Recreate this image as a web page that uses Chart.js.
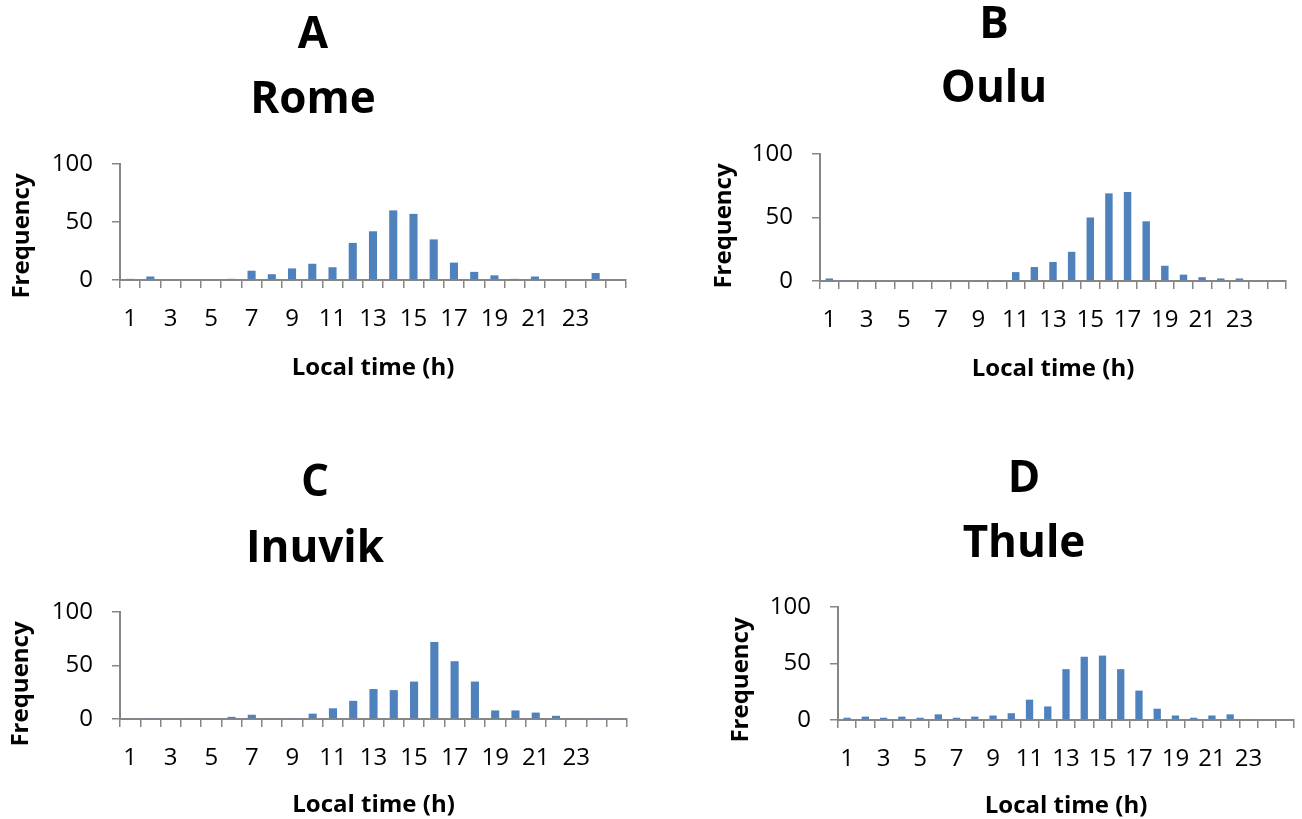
<!DOCTYPE html>
<html>
<head>
<meta charset="utf-8">
<script src="https://cdn.jsdelivr.net/npm/chart.js@4.4.1/dist/chart.umd.min.js"></script>
<style>
  html, body { margin:0; padding:0; background:#fff; }
  #wrap { position:relative; width:1302px; height:819px; overflow:hidden; }
  #wrap canvas { position:absolute; }
</style>
</head>
<body>
<div id="wrap">
  <canvas id="chartA" width="651" height="410" style="left:0;top:0"></canvas>
  <canvas id="chartB" width="651" height="410" style="left:651px;top:0"></canvas>
  <canvas id="chartC" width="651" height="409" style="left:0;top:410px"></canvas>
  <canvas id="chartD" width="651" height="409" style="left:651px;top:410px"></canvas>
</div>
<script>
// Hour of day (the last slot is empty on the original axis)
const hours = ['1','2','3','4','5','6','7','8','9','10','11','12',
               '13','14','15','16','17','18','19','20','21','22','23','24',''];
const yTicks = [0, 50, 100];

// Frequency per local hour
const rome   = [1, 3, 0, 0, 0, 1, 8, 5, 10, 14, 11, 32, 42, 60, 57, 35, 15, 7, 4, 1, 3, 0, 0, 6];
const oulu   = [2, 0.4, 0.4, 0, 0.4, 0, 0, 0.4, 0.4, 0.4, 7, 11, 15, 23, 50, 69, 70, 47, 12, 5, 3, 2, 2, 0];
const inuvik = [0, 0.5, 0, 0.5, 0, 2, 4, 0.5, 0.5, 5, 10, 17, 28, 27, 35, 72, 54, 35, 8, 8, 6, 3, 0.5, 0.5];
const thule  = [2, 3, 2, 3, 2, 5, 2, 3, 4, 6, 18, 12, 45, 56, 57, 45, 26, 10, 4, 2, 4, 5, 0.6, 0];

const BAR_BLUE = '#4f81bd';
const AXIS_GREY = '#868686';
const FONT = "'Open Sans', 'DejaVu Sans', sans-serif";

// Panel letter, city name and axis titles
const panelText = {
  id: 'panelText',
  afterDraw(chart, args, o) {
    const c = chart.ctx;
    const a = chart.chartArea;
    c.save();
    c.fillStyle = '#000';
    c.textAlign = 'center';
    c.textBaseline = 'alphabetic';
    c.font = `bold 44px ${FONT}`;
    c.fillText(o.letter, o.titleX, o.letterY);
    c.fillText(o.city, o.titleX, o.cityY);
    c.font = `bold 24px ${FONT}`;
    c.fillText('Local time (h)', (a.left + a.right) / 2, o.xTitleY);
    c.translate(o.yTitleX, o.yTitleY);
    c.rotate(-Math.PI / 2);
    c.fillText('Frequency', 0, 0);
    c.restore();
  }
};

function makePanel(id, values, box, text) {
  const canvas = document.getElementById(id);
  const W = canvas.width, H = canvas.height;
  return new Chart(canvas, {
    type: 'bar',
    data: {
      labels: hours,
      datasets: [{ data: values, backgroundColor: BAR_BLUE, barPercentage: 1, categoryPercentage: 0.4 }]
    },
    options: {
      responsive: false,
      animation: false,
      layout: { padding: { top: box.top, right: W - box.right, left: 0, bottom: 0 } },
      plugins: { legend: { display: false }, tooltip: { enabled: false }, panelText: text },
      scales: {
        x: {
          offset: true,
          grid: { offset: true, drawOnChartArea: false, tickLength: 8, color: AXIS_GREY, lineWidth: 1.5 },
          border: { color: AXIS_GREY, width: 2 },
          ticks: {
            autoSkip: false, maxRotation: 0, padding: 17, color: '#000',
            font: { family: FONT, size: 24 },
            callback(v, i) { return i % 2 === 0 ? this.getLabelForValue(v) : ''; }
          },
          afterFit(s) { s.height = H - box.bottom; }
        },
        y: {
          min: 0, max: 100,
          afterBuildTicks(s) { s.ticks = yTicks.map(v => ({ value: v })); },
          grid: { drawOnChartArea: false, tickLength: 8, color: AXIS_GREY, lineWidth: 1.5 },
          border: { color: AXIS_GREY, width: 2 },
          ticks: { padding: 19, color: '#000', font: { family: FONT, size: 24 } },
          afterFit(s) { s.width = box.left; }
        }
      }
    },
    plugins: [panelText]
  });
}

makePanel('chartA', rome,
  { left: 120, top: 164, right: 626, bottom: 280 },
  { letter: 'A', city: 'Rome', titleX: 313, letterY: 48, cityY: 113, xTitleY: 375, yTitleX: 29, yTitleY: 236 });

makePanel('chartB', oulu,
  { left: 169, top: 154, right: 635, bottom: 281 },
  { letter: 'B', city: 'Oulu', titleX: 343, letterY: 38, cityY: 102, xTitleY: 376, yTitleX: 80, yTitleY: 226 });

makePanel('chartC', inuvik,
  { left: 120, top: 202, right: 627, bottom: 309 },
  { letter: 'C', city: 'Inuvik', titleX: 315, letterY: 86, cityY: 152, xTitleY: 402, yTitleX: 28, yTitleY: 274 });

makePanel('chartD', thule,
  { left: 187, top: 197, right: 646, bottom: 310 },
  { letter: 'D', city: 'Thule', titleX: 373, letterY: 82, cityY: 147, xTitleY: 403, yTitleX: 97, yTitleY: 270 });
</script>
</body>
</html>
